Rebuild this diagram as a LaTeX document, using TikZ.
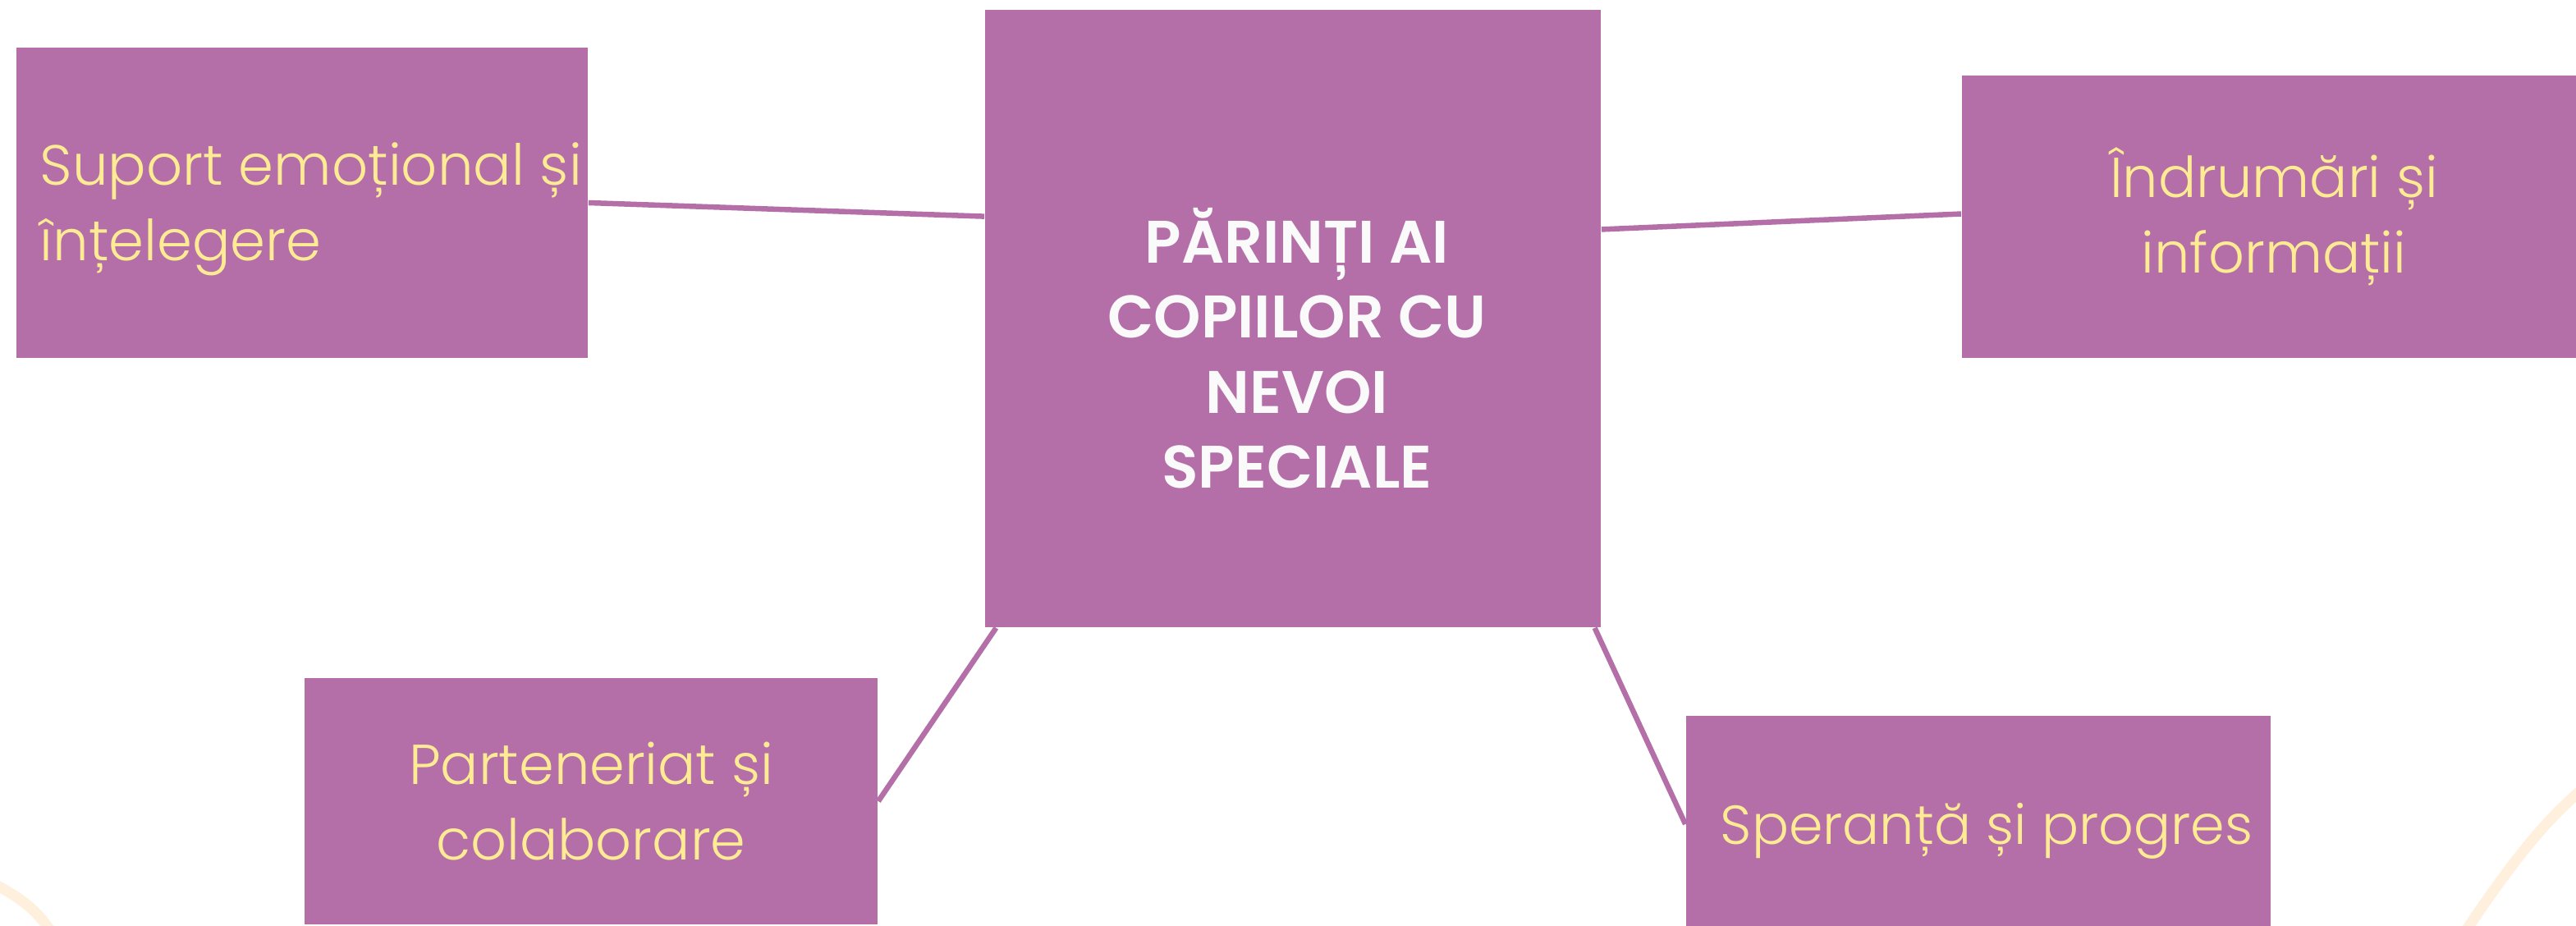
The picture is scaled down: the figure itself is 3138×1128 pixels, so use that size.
\documentclass[tikz,border=0pt]{standalone}
\usepackage{fontspec}
\setmainfont{Poppins}[UprightFont={* Light}, BoldFont={* SemiBold}]
\usetikzlibrary{calc}
\definecolor{boxfill}{HTML}{B46EA8}
\definecolor{labeltext}{HTML}{FFEB94}
\definecolor{centertext}{HTML}{FAFAFA}
\definecolor{swirl}{HTML}{FFF0DD}
\tikzset{
  x=0.01cm, y=-0.01cm,
  topicbox/.style={fill=boxfill, draw=none, inner sep=0pt, text=labeltext,
    font=\fontsize{19.5pt}{26pt}\selectfont},
  link/.style={draw=boxfill, line width=0.065cm},
}
\begin{document}
\begin{tikzpicture}
\useasboundingbox (0,0) rectangle (3138,1128);
% faint background strokes
\draw[swirl, line width=0.13cm, line cap=round] (-5,1078) .. controls (22,1092) and (45,1108) .. (62,1135);
\draw[swirl, line width=0.13cm, line cap=round] (3145,962) .. controls (3100,1000) and (3060,1050) .. (3003,1135);
% nodes
\node[topicbox, minimum width=6.96cm, minimum height=3.78cm] (s) at (368,247) {};
\node[text=labeltext, inner sep=0pt, font=\fontsize{19.6pt}{26pt}\selectfont, align=left, anchor=west] (st) at (48,255) {Suport emoțional și\\înțelegere};
\node[topicbox, minimum width=7.6cm, minimum height=3.44cm, align=center] (i) at (2770,264) {Îndrumări și\\informații};
\node[topicbox, minimum width=6.98cm, minimum height=3.0cm, align=center] (p) at (720,976) {Parteneriat și\\colaborare};
\node[topicbox, minimum width=7.12cm, minimum height=2.64cm] (sp) at (2410,1004) {};
\node[text=labeltext, inner sep=0pt, font=\fontsize{19pt}{26pt}\selectfont] (spt) at (2420,1012) {Speranță și progres};
\node[fill=boxfill, inner sep=0pt, minimum width=7.5cm, minimum height=7.52cm] (c) at (1575,388) {};
\node[text=centertext, align=center, font=\fontsize{20.8pt}{26pt}\selectfont\bfseries] (ct) at (1580,424) {PĂRINȚI AI\\COPIILOR CU\\NEVOI\\SPECIALE};
% connectors
\draw[link] (s.east) -- ($(c.north west)!0.335!(c.south west)$);
\draw[link] ($(c.north east)!0.356!(c.south east)$) -- ($(i.north west)!0.49!(i.south west)$);
\draw[link] ($(c.south west)!0.019!(c.south east)$) -- (p.east);
\draw[link] ($(c.south west)!0.989!(c.south east)$) -- (sp.west);
\end{tikzpicture}
\end{document}
